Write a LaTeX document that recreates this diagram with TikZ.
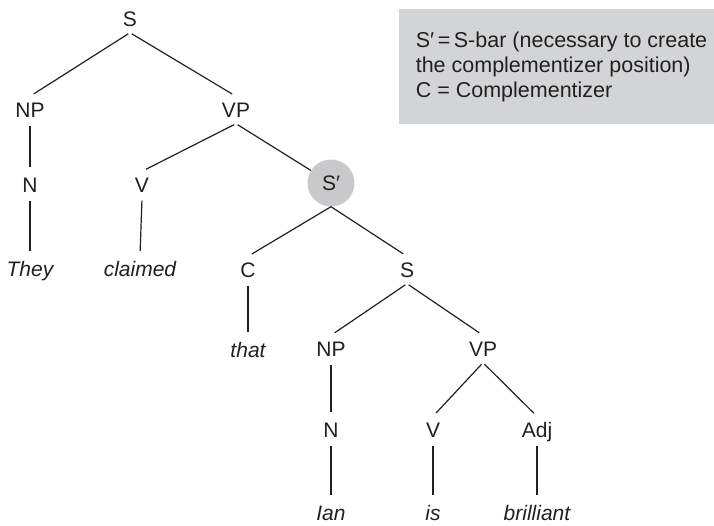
\documentclass[tikz,border=0pt]{standalone}
\usepackage{fontspec}
\setmainfont{Liberation Sans}
\usepackage{tikz}
\usetikzlibrary{positioning}
\definecolor{ink}{RGB}{35,31,32}
\definecolor{barfill}{RGB}{201,201,203}
\definecolor{notefill}{RGB}{211,212,214}
\tikzstyle{cat} = [text=ink, text height=15pt, text depth=0pt, inner xsep=2pt, inner ysep=6pt, font=\fontsize{21}{24}\selectfont]
\tikzstyle{word} = [cat, font=\fontsize{21}{24}\selectfont\itshape]
\tikzstyle{bar} = [cat, circle, fill=barfill, minimum size=47pt, inner sep=0pt]
\tikzstyle{edge} = [draw=ink, line width=1.2pt, shorten <=2pt, shorten >=4.5pt]
\tikzstyle{note} = [rectangle, fill=notefill, anchor=north east, minimum width=315pt, minimum height=115pt]
\tikzstyle{notetext} = [text=ink, inner sep=0pt, align=left, font=\fontsize{21.5}{25}\selectfont]

\begin{document}
\begin{tikzpicture}[x=1pt, y=-1pt]
    \useasboundingbox (0,0) rectangle (714,525);

    \node[cat] (s1) at (130,19) {S};
    \node[cat] (np1) at (30,110) {NP};
    \node[cat] (vp1) at (236,110) {VP};
    \node[cat] (n1) at (30,185) {N};
    \node[cat] (v1) at (142,185) {V};
    \node[bar] (sbar) at (331,183) {S′};
    \node[word] (they) at (30,269) {They};
    \node[word] (claimed) at (140,269) {claimed};
    \node[cat] (c) at (248,270) {C};
    \node[cat] (s2) at (407,270) {S};
    \node[word] (that) at (248,350) {that};
    \node[cat] (np2) at (331,349) {NP};
    \node[cat] (vp2) at (483,349) {VP};
    \node[cat] (n2) at (331,430) {N};
    \node[cat] (v2) at (433,430) {V};
    \node[cat] (adj) at (537,430) {Adj};
    \node[word] (ian) at (331,513) {Ian};
    \node[word] (is) at (433,513) {is};
    \node[word] (brilliant) at (537,513) {brilliant};

    % legend
    \node[note] (legend) at (714,9) {};
    \node[notetext, right=17pt of legend.west] (legendtext) {S′\,=\,S-bar (necessary to create\\the complementizer position)\\C = Complementizer};

    % main clause
    \draw[edge] (s1.south) -- (np1.north);
    \draw[edge] (s1.south) -- (vp1.north);
    \draw[edge] (np1.south) -- (n1.north);
    \draw[edge] (n1.south) -- (they.north);
    \draw[edge] (vp1.south) -- (v1.north);
    \draw[edge, shorten >=0pt] (vp1.south) -- (sbar);
    \draw[edge] (v1.south) -- (claimed.north);

    % embedded clause
    \draw[edge, shorten <=0pt] (sbar.south) -- (c.north);
    \draw[edge, shorten <=0pt] (sbar.south) -- (s2.north);
    \draw[edge] (c.south) -- (that.north);
    \draw[edge] (s2.south) -- (np2.north);
    \draw[edge] (s2.south) -- (vp2.north);
    \draw[edge] (np2.south) -- (n2.north);
    \draw[edge] (n2.south) -- (ian.north);
    \draw[edge] (vp2.south) -- (v2.north);
    \draw[edge] (vp2.south) -- (adj.north);
    \draw[edge] (v2.south) -- (is.north);
    \draw[edge] (adj.south) -- (brilliant.north);
\end{tikzpicture}
\end{document}
